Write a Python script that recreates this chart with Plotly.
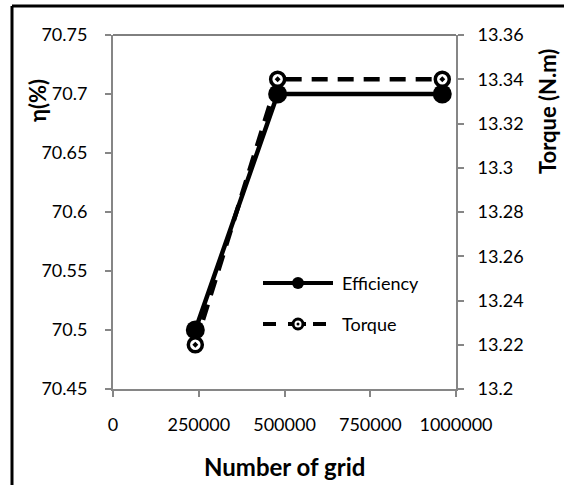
import plotly.graph_objects as go

# Grid-independence data
grid_cells = [240000, 480000, 960000]
efficiency = [70.5, 70.7, 70.7]        # η (%)
torque = [13.22, 13.34, 13.34]         # N.m

x_ticks = [0, 250000, 500000, 750000, 1000000]
x_ticklabels = ["0", "250000", "500000", "750000", "1000000"]
eff_ticks = [70.45, 70.5, 70.55, 70.6, 70.65, 70.7, 70.75]
eff_ticklabels = ["70.45", "70.5", "70.55", "70.6", "70.65", "70.7", "70.75"]
tq_ticks = [13.2, 13.22, 13.24, 13.26, 13.28, 13.3, 13.32, 13.34, 13.36]
tq_ticklabels = ["13.2", "13.22", "13.24", "13.26", "13.28", "13.3", "13.32", "13.34", "13.36"]

FONT = "Lato"
AXIS_GREY = "#868686"

# page / plot-area geometry in pixels
PW, PH = 564, 485
L, R, T, B = 113, 456, 35, 389


def px(x):
    return (x - L) / (R - L)


def py(y):
    return (B - y) / (B - T)


fig = go.Figure()
fig.add_trace(go.Scatter(
    x=grid_cells, y=efficiency, name="Efficiency", mode="lines+markers",
    line=dict(color="black", width=4.5),
    marker=dict(symbol="circle", size=19, color="black"),
    yaxis="y",
))
fig.add_trace(go.Scatter(
    x=grid_cells, y=torque, name="Torque", mode="lines+markers",
    line=dict(color="black", width=4.5, dash="16px,10px"),
    marker=dict(symbol="circle-dot", size=14, color="white",
                line=dict(color="black", width=3.5)),
    yaxis="y2",
))

tick_font = dict(family=FONT, size=18, color="black")
axis_common = dict(showgrid=False, zeroline=False, showline=True, linecolor=AXIS_GREY,
                   linewidth=2, ticks="outside", ticklen=6, tickcolor=AXIS_GREY,
                   tickwidth=2, tickfont=tick_font)

shapes = [
    # thin top edge of the plot area
    dict(type="line", xref="paper", yref="paper", x0=0, x1=1, y0=1, y1=1,
         line=dict(color="black", width=1)),
    # outer frame (left and top edges)
    dict(type="line", xref="paper", yref="paper", x0=px(12), x1=px(12),
         y0=py(6), y1=py(PH + 20), line=dict(color="black", width=3)),
    dict(type="line", xref="paper", yref="paper", x0=px(12), x1=px(PW + 20),
         y0=py(6), y1=py(6), line=dict(color="black", width=3)),
]

# hand-built legend keys (long line samples)
LEG_X0, LEG_X1, LEG_XM, LEG_TX = 263, 333, 298, 340
LEG_Y_EFF, LEG_Y_TQ = 283, 324
shapes += [
    dict(type="line", xref="paper", yref="paper", x0=px(LEG_X0), x1=px(LEG_X1),
         y0=py(LEG_Y_EFF), y1=py(LEG_Y_EFF), line=dict(color="black", width=4)),
    dict(type="circle", xref="paper", yref="paper", xsizemode="pixel", ysizemode="pixel",
         xanchor=px(LEG_XM), yanchor=py(LEG_Y_EFF), x0=-6, x1=6, y0=-6, y1=6,
         fillcolor="black", line=dict(color="black", width=0)),
    dict(type="line", xref="paper", yref="paper", x0=px(LEG_X0), x1=px(276),
         y0=py(LEG_Y_TQ), y1=py(LEG_Y_TQ), line=dict(color="black", width=4)),
    dict(type="line", xref="paper", yref="paper", x0=px(288), x1=px(306),
         y0=py(LEG_Y_TQ), y1=py(LEG_Y_TQ), line=dict(color="black", width=4)),
    dict(type="line", xref="paper", yref="paper", x0=px(313), x1=px(326),
         y0=py(LEG_Y_TQ), y1=py(LEG_Y_TQ), line=dict(color="black", width=4)),
    dict(type="circle", xref="paper", yref="paper", xsizemode="pixel", ysizemode="pixel",
         xanchor=px(LEG_XM), yanchor=py(LEG_Y_TQ), x0=-5, x1=5, y0=-5, y1=5,
         fillcolor="white", line=dict(color="black", width=3)),
    dict(type="circle", xref="paper", yref="paper", xsizemode="pixel", ysizemode="pixel",
         xanchor=px(LEG_XM), yanchor=py(LEG_Y_TQ), x0=-1.5, x1=1.5, y0=-1.5, y1=1.5,
         fillcolor="black", line=dict(color="black", width=0)),
]

annotations = [
    dict(text="<b>Number of grid</b>", xref="paper", yref="paper",
         x=px(284), y=py(466), xanchor="center", yanchor="middle", showarrow=False,
         font=dict(family=FONT, size=24, color="black")),
    dict(text="<b>η(%)</b>", xref="paper", yref="paper",
         x=px(38), y=py(101), xanchor="center", yanchor="middle", showarrow=False,
         textangle=-90, font=dict(family=FONT, size=22, color="black")),
    dict(text="<b>Torque (N.m)</b>", xref="paper", yref="paper",
         x=px(547), y=py(112), xanchor="center", yanchor="middle", showarrow=False,
         textangle=-90, font=dict(family=FONT, size=22, color="black")),
    dict(text="Efficiency", xref="paper", yref="paper",
         x=px(LEG_TX), y=py(LEG_Y_EFF), xanchor="left", yanchor="middle", showarrow=False,
         font=dict(family=FONT, size=18, color="black")),
    dict(text="Torque", xref="paper", yref="paper",
         x=px(LEG_TX), y=py(LEG_Y_TQ), xanchor="left", yanchor="middle", showarrow=False,
         font=dict(family=FONT, size=18, color="black")),
]

fig.update_layout(
    width=PW, height=PH,
    margin=dict(l=L, r=PW - R, t=T, b=PH - B, pad=0),
    paper_bgcolor="white", plot_bgcolor="white",
    showlegend=False,
    xaxis=dict(range=[0, 1000000], tickvals=x_ticks, ticktext=x_ticklabels,
               ticklabelstandoff=12, **axis_common),
    yaxis=dict(range=[70.45, 70.75], tickvals=eff_ticks, ticktext=eff_ticklabels,
               ticklabelstandoff=14, **axis_common),
    yaxis2=dict(range=[13.2, 13.36], tickvals=tq_ticks, ticktext=tq_ticklabels,
                overlaying="y", side="right", ticklabelstandoff=10, **axis_common),
    shapes=shapes,
    annotations=annotations,
)

fig.write_html("out.html")
